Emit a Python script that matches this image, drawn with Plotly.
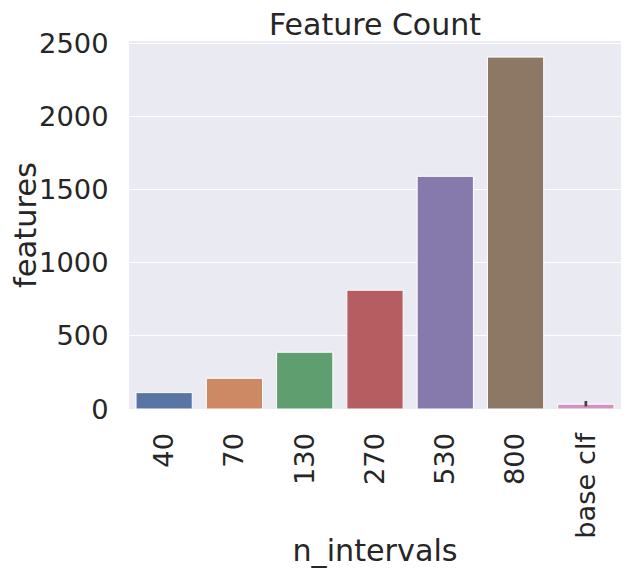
import plotly.graph_objects as go

# data
categories = ["40", "70", "130", "270", "530", "800", "base clf"]
features = [112, 210, 388, 812, 1590, 2405, 33]
err_plus = [0, 0, 0, 0, 0, 0, 22]
err_minus = [0, 0, 0, 0, 0, 0, 15]
colors = ["#5975a4", "#cc8963", "#5f9e6e", "#b55d60", "#857aab", "#8d7866", "#d095bf"]

font = "DejaVu Sans"
ink = "#262626"

bar = go.Bar(
    x=categories,
    y=features,
    marker=dict(color=colors, line=dict(color="white", width=1)),
    error_y=dict(
        type="data",
        symmetric=False,
        array=err_plus,
        arrayminus=err_minus,
        color="#424242",
        thickness=2.7,
        width=0,
    ),
)

# page has an 8px body margin, so the figure is drawn 8px in
fig = go.Figure(bar)
fig.update_layout(
    width=617,
    height=560,
    margin=dict(l=121, r=4, t=33, b=159),
    paper_bgcolor="white",
    plot_bgcolor="#eaeaf2",
    bargap=0.2,
    showlegend=False,
    font=dict(family=font, color=ink, size=27.3),
    title=dict(
        text="Feature Count",
        x=0.5,
        xanchor="center",
        xref="paper",
        y=1 - 16 / 560,
        yref="container",
        yanchor="middle",
        font=dict(size=30, color=ink, family=font),
    ),
)
fig.update_xaxes(
    type="category",
    range=[-0.5, 6.5],
    automargin=False,
    tickangle=-90,
    ticks="outside",
    ticklen=12,
    tickcolor="rgba(0,0,0,0)",
    showgrid=False,
    showline=False,
    zeroline=False,
    tickfont=dict(size=27.3, color=ink),
    title=dict(text="n_intervals", font=dict(size=30.2, color=ink), standoff=6),
)
fig.update_yaxes(
    range=[0, 2515],
    dtick=500,
    automargin=False,
    ticks="outside",
    ticklen=14,
    tickcolor="rgba(0,0,0,0)",
    showgrid=True,
    gridcolor="white",
    gridwidth=1.3,
    zeroline=False,
    showline=False,
    tickfont=dict(size=27.3, color=ink),
    title=dict(text="features", font=dict(size=30.5, color=ink), standoff=10),
)

fig.write_html("out.html")
